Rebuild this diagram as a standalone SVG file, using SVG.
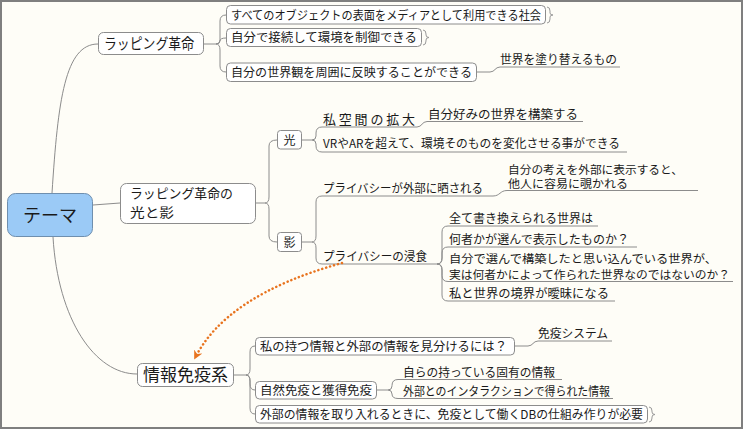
<svg xmlns="http://www.w3.org/2000/svg" width="743" height="429" viewBox="0 0 743 429">
<defs>
<style>
text{font-family:"Noto Sans CJK JP","Noto Sans CJK SC",sans-serif;fill:#1a1a1a;font-size:12px}
.c{fill:none;stroke:#8c8c8c;stroke-width:1}
.box{fill:#ffffff;stroke:#8c8c8c;stroke-width:1}
.stub{fill:none;stroke:#9a9a9a;stroke-width:1}
.big{font-size:14.5px}
.two{font-size:11.5px}
</style>
<marker id="ah" viewBox="0 0 10 10" refX="8" refY="5" markerWidth="9" markerHeight="9" markerUnits="userSpaceOnUse" orient="auto">
<path d="M0,0 L10,5 L0,10 L3,5 Z" fill="#e8731e"/>
</marker>
</defs>
<rect x="0" y="0" width="743" height="429" fill="#fefdf7"/>
<rect x="1" y="1" width="741" height="427" fill="none" stroke="#7f7f7f" stroke-width="2"/>

<g id="connectors">
<path class="c" d="M52,193 C58,100 65,44 98,44"/>
<path class="c" d="M93,205 L120,203"/>
<path class="c" d="M53,237 C58,320 95,374 137,374"/>
<path class="c" d="M204,44 L216,44 Q220,44 220,40 L220,21 Q220,15 226,15"/>
<path class="c" d="M216,44 Q220,44 220,41 Q220,38 226,38"/>
<path class="c" d="M216,44 Q220,44 220,50 L220,66 Q220,72 226,72"/>
<path class="c" d="M477,72 L490,72 C495,72 495,67 500,67 L620,67"/>
<path class="c" d="M256,203 L265,203 Q269,203 269,197 L269,146 Q269,140 277,140"/>
<path class="c" d="M265,203 Q269,203 269,209 L269,236 Q269,242 277,242"/>
<path class="c" d="M302,140 L312,140 Q316,140 316,136 L316,133 Q316,127 322,127 L417,127 C422,127 422,121.5 427,121.5 L583,121.5"/>
<path class="c" d="M312,140 Q316,140 316,144 L316,146 Q316,152 322,152 L627,152"/>
<path class="c" d="M302,242 L312,242 Q316,242 316,236 L316,202 Q316,196 322,196 L493,196 C500,196 500,190.5 507,190.5 L698,190.5"/>
<path class="c" d="M312,242 Q316,242 316,248 L316,258 Q316,264 322,264 L437,264"/>
<path class="c" d="M437,264 Q442,264 442,258 L442,232 Q442,226 448,226 L598,226"/>
<path class="c" d="M437,264 Q442,264 442,258 L442,253 Q442,247 448,247 L637,247"/>
<path class="c" d="M437,264 Q442,264 442,270 L442,275.5 Q442,281.5 448,281.5 L733,281.5"/>
<path class="c" d="M437,264 Q442,264 442,270 L442,295 Q442,301 448,301 L615,301"/>
<path class="c" d="M234,375 L246,375 Q250,375 250,369 L250,352 Q250,346 255,346"/>
<path class="c" d="M246,375 Q250,375 250,381 L250,384 Q250,390 255,390"/>
<path class="c" d="M246,375 Q250,375 250,381 L250,408 Q250,414 255,414"/>
<path class="c" d="M515,346 L528,346 C533,346 533,341 538,341 L612,341"/>
<path class="c" d="M377,390 L388,390 Q392,390 392,386 L392,385.5 Q392,379.5 398,379.5 L562,379.5"/>
<path class="c" d="M388,390 Q392,390 392,394 Q392,398.5 398,398.5 L613,398.5"/>
<path d="M342,263 C262,285 215,318 195,358" fill="none" stroke="#e8731e" stroke-width="2.5" stroke-dasharray="0.1 4" stroke-linecap="round" marker-end="url(#ah)"/>
</g>

<g id="root">
<rect x="7.5" y="193.5" width="85" height="43" rx="8" fill="#9bcaf6" stroke="#6f8fae" stroke-width="1"/>
<text x="50" y="222" text-anchor="middle" style="font-size:18px">テーマ</text>
</g>

<g id="n-wrapping">
<rect class="box" x="98.5" y="32.5" width="105" height="22" rx="5"/>
<text class="big" x="104" y="49" textLength="90" lengthAdjust="spacingAndGlyphs">ラッピング革命</text>
</g>
<g id="n-w1">
<rect class="box" x="226.5" y="5.5" width="319" height="18.5" rx="4"/>
<text x="231" y="19.5" textLength="310" lengthAdjust="spacingAndGlyphs">すべてのオブジェクトの表面をメディアとして利用できる社会</text>
<path class="stub" d="M547,7 Q550,7 550,11 L550,13 Q550,15 553,15 Q550,15 550,17 L550,19 Q550,23 547,23"/>
</g>
<g id="n-w2">
<rect class="box" x="226.5" y="28.5" width="195" height="18" rx="4"/>
<text x="231" y="42" textLength="186" lengthAdjust="spacingAndGlyphs">自分で接続して環境を制御できる</text>
<path class="stub" d="M423,30 Q426,30 426,34 L426,35 Q426,37.5 429,37.5 Q426,37.5 426,40 L426,41 Q426,45 423,45"/>
</g>
<g id="n-w3">
<rect class="box" x="226.5" y="63" width="250" height="18.5" rx="4"/>
<text x="231" y="77" textLength="241" lengthAdjust="spacingAndGlyphs">自分の世界観を周囲に反映することができる</text>
</g>
<g id="n-w3a">
<text x="500" y="64" textLength="117" lengthAdjust="spacingAndGlyphs">世界を塗り替えるもの</text>
</g>

<g id="n-lightshadow">
<rect class="box" x="120.5" y="183.5" width="135" height="40" rx="6"/>
<text x="130" y="198" style="font-size:13px" textLength="103" lengthAdjust="spacingAndGlyphs">ラッピング革命の</text>
<text x="130" y="217" style="font-size:13px" textLength="44" lengthAdjust="spacingAndGlyphs">光と影</text>
</g>
<g id="n-light">
<rect class="box" x="277.5" y="130.5" width="24" height="18.5" rx="3"/>
<text x="289.5" y="144.5" text-anchor="middle">光</text>
</g>
<g id="n-shadow">
<rect class="box" x="277.5" y="232.5" width="24" height="19" rx="3"/>
<text x="289.5" y="247" text-anchor="middle">影</text>
</g>
<g id="n-l1">
<text x="323" y="124" style="font-size:13px" textLength="92" lengthAdjust="spacing">私空間の拡大</text>
</g>
<g id="n-l1a">
<text x="428" y="119" textLength="150" lengthAdjust="spacingAndGlyphs">自分好みの世界を構築する</text>
</g>
<g id="n-l2">
<text x="323" y="148" textLength="297" lengthAdjust="spacingAndGlyphs">VRやARを超えて、環境そのものを変化させる事ができる</text>
</g>
<g id="n-s1">
<text x="323" y="193" textLength="160" lengthAdjust="spacingAndGlyphs">プライバシーが外部に晒される</text>
</g>
<g id="n-s1a">
<text class="two" x="508" y="173.5" textLength="175" lengthAdjust="spacingAndGlyphs">自分の考えを外部に表示すると、</text>
<text class="two" x="508" y="188" textLength="120" lengthAdjust="spacingAndGlyphs">他人に容易に覗かれる</text>
</g>
<g id="n-s2">
<text x="323" y="261" textLength="104" lengthAdjust="spacingAndGlyphs">プライバシーの浸食</text>
</g>
<g id="n-s2a">
<text x="449" y="222.5" textLength="144" lengthAdjust="spacingAndGlyphs">全て書き換えられる世界は</text>
</g>
<g id="n-s2b">
<text x="449" y="243.5" textLength="180" lengthAdjust="spacingAndGlyphs">何者かが選んで表示したものか？</text>
</g>
<g id="n-s2c">
<text class="two" x="449" y="263" textLength="268" lengthAdjust="spacingAndGlyphs">自分で選んで構築したと思い込んでいる世界が、</text>
<text class="two" x="449" y="278.5" textLength="281" lengthAdjust="spacingAndGlyphs">実は何者かによって作られた世界なのではないのか？</text>
</g>
<g id="n-s2d">
<text x="449" y="297.5" textLength="160" lengthAdjust="spacingAndGlyphs">私と世界の境界が曖昧になる</text>
</g>

<g id="n-immune">
<rect class="box" x="137.5" y="363.5" width="96" height="23" rx="5"/>
<text x="143" y="381" style="font-size:17px" textLength="85" lengthAdjust="spacingAndGlyphs">情報免疫系</text>
</g>
<g id="n-i1">
<rect class="box" x="255.5" y="337.5" width="259" height="17.5" rx="4"/>
<text x="260" y="351" textLength="247" lengthAdjust="spacingAndGlyphs">私の持つ情報と外部の情報を見分けるには？</text>
</g>
<g id="n-i1a">
<text x="538" y="338" textLength="70" lengthAdjust="spacingAndGlyphs">免疫システム</text>
</g>
<g id="n-i2">
<rect class="box" x="255.5" y="381.5" width="121" height="17.5" rx="4"/>
<text x="260" y="395" textLength="112" lengthAdjust="spacingAndGlyphs">自然免疫と獲得免疫</text>
</g>
<g id="n-i2a">
<text x="403" y="377" textLength="152" lengthAdjust="spacingAndGlyphs">自らの持っている固有の情報</text>
</g>
<g id="n-i2b">
<text x="403" y="396" textLength="207" lengthAdjust="spacingAndGlyphs">外部とのインタラクションで得られた情報</text>
</g>
<g id="n-i3">
<rect class="box" x="255.5" y="405.5" width="392" height="17.5" rx="4"/>
<text x="260" y="419" textLength="383" lengthAdjust="spacingAndGlyphs">外部の情報を取り入れるときに、免疫として働くDBの仕組み作りが必要</text>
<path class="stub" d="M649,407 Q652,407 652,411 L652,412 Q652,414.5 655,414.5 Q652,414.5 652,417 L652,418 Q652,422 649,422"/>
</g>
</svg>
